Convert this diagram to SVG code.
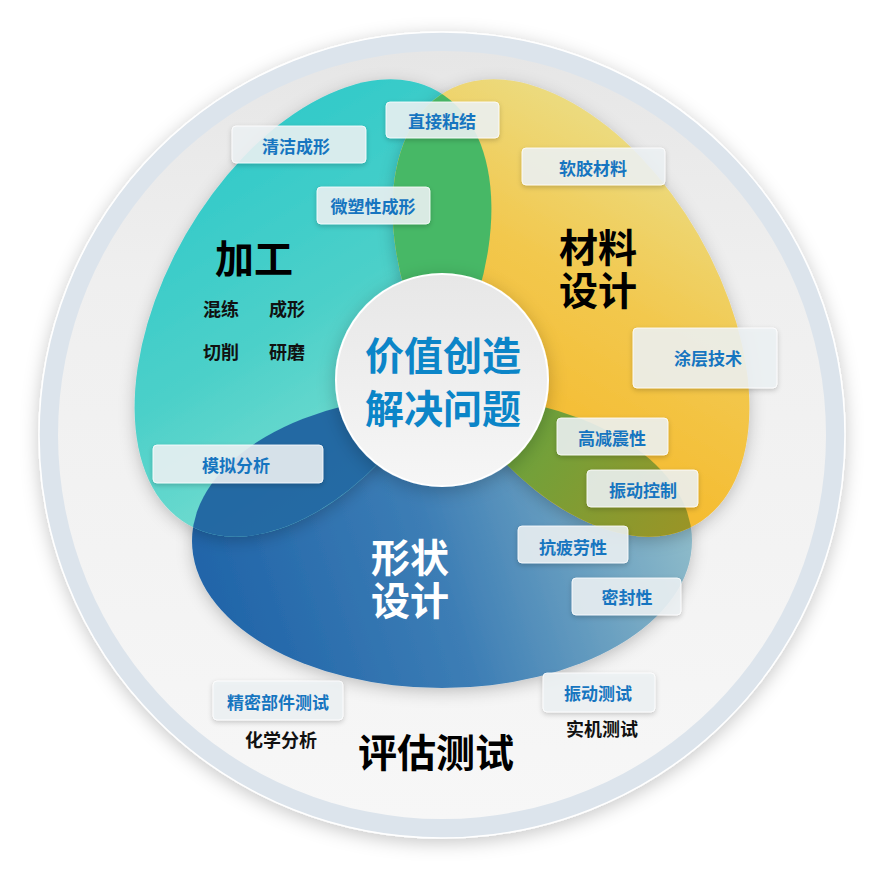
<svg xmlns="http://www.w3.org/2000/svg" width="886" height="873" viewBox="0 0 886 873">
<defs>
  <style>
    .lbl rect { fill: #eef2f5; fill-opacity: 0.87; stroke: #ffffff; stroke-opacity: 0.8; stroke-width: 1; filter: url(#boxShadow); }
    .lbl text { font-family: "Noto Sans CJK SC", "Noto Sans", sans-serif; font-weight: 700; font-size: 17px; fill: #1675c0; text-anchor: middle; dominant-baseline: central; }
    .big { font-family: "Noto Sans CJK SC", "Noto Sans", sans-serif; font-weight: 700; font-size: 39px; text-anchor: middle; dominant-baseline: central; }
    .sub { font-family: "Noto Sans CJK SC", "Noto Sans", sans-serif; font-weight: 700; font-size: 18px; fill: #111111; text-anchor: middle; dominant-baseline: central; }
  </style>
  <filter id="outerShadow" x="-10%" y="-10%" width="120%" height="120%">
    <feDropShadow dx="0" dy="4" stdDeviation="9" flood-color="#000000" flood-opacity="0.22"/>
  </filter>
  <filter id="petalShadow" x="-15%" y="-15%" width="130%" height="130%">
    <feDropShadow dx="0" dy="4" stdDeviation="8" flood-color="#000000" flood-opacity="0.22"/>
  </filter>
  <filter id="boxShadow" x="-20%" y="-30%" width="140%" height="170%">
    <feDropShadow dx="0" dy="2" stdDeviation="2.5" flood-color="#000000" flood-opacity="0.22"/>
  </filter>
  <linearGradient id="discGrad" x1="0" y1="0" x2="0" y2="1">
    <stop offset="0" stop-color="#e6e6e6"/>
    <stop offset="0.3" stop-color="#efefef"/>
    <stop offset="1" stop-color="#f7f7f7"/>
  </linearGradient>
  <linearGradient id="tealGrad" gradientUnits="userSpaceOnUse" x1="420" y1="90" x2="190" y2="520">
    <stop offset="0" stop-color="#2ac8c9"/>
    <stop offset="0.5" stop-color="#4cd0c9"/>
    <stop offset="1" stop-color="#8ae3d3"/>
  </linearGradient>
  <linearGradient id="yellowGrad" gradientUnits="userSpaceOnUse" x1="460" y1="90" x2="700" y2="500">
    <stop offset="0" stop-color="#e9e394"/>
    <stop offset="0.45" stop-color="#f2c84e"/>
    <stop offset="1" stop-color="#f7b41d"/>
  </linearGradient>
  <linearGradient id="blueGrad" gradientUnits="userSpaceOnUse" x1="220" y1="620" x2="690" y2="470">
    <stop offset="0" stop-color="#2165a9"/>
    <stop offset="0.45" stop-color="#3c7db5"/>
    <stop offset="1" stop-color="#93bfcb"/>
  </linearGradient>
  <linearGradient id="greenGrad" gradientUnits="userSpaceOnUse" x1="440" y1="100" x2="440" y2="300">
    <stop offset="0" stop-color="#36c28e"/>
    <stop offset="1" stop-color="#47b866"/>
  </linearGradient>
  <linearGradient id="oliveGrad" gradientUnits="userSpaceOnUse" x1="540" y1="420" x2="690" y2="530">
    <stop offset="0" stop-color="#6ea23c"/>
    <stop offset="1" stop-color="#9a9426"/>
  </linearGradient>
  <linearGradient id="centerGrad" x1="0" y1="0" x2="0" y2="1">
    <stop offset="0" stop-color="#e7e7e7"/>
    <stop offset="1" stop-color="#f6f6f6"/>
  </linearGradient>
  <clipPath id="clipTeal">
    <ellipse cx="313" cy="308" rx="250" ry="147" transform="rotate(-60 313 308)"/>
  </clipPath>
  <clipPath id="clipYellow">
    <ellipse cx="571" cy="308" rx="250" ry="147" transform="rotate(60 571 308)"/>
  </clipPath>
</defs>

<g id="background">
  <circle cx="442" cy="435" r="403" fill="#dce4ec" stroke="#ffffff" stroke-width="1.5" filter="url(#outerShadow)"/>
  <circle cx="442" cy="435" r="384" fill="url(#discGrad)"/>
</g>

<g id="petals">
  <g filter="url(#petalShadow)">
    <ellipse id="petal-blue" cx="442" cy="541" rx="250" ry="147" fill="url(#blueGrad)"/>
  </g>
  <g filter="url(#petalShadow)">
    <ellipse id="petal-teal" cx="313" cy="308" rx="250" ry="147" transform="rotate(-60 313 308)" fill="url(#tealGrad)"/>
  </g>
  <g clip-path="url(#clipTeal)">
    <ellipse id="overlap-teal-blue" cx="442" cy="541" rx="250" ry="147" fill="#1d5f9f" fill-opacity="0.92"/>
  </g>
  <g filter="url(#petalShadow)">
    <ellipse id="petal-yellow" cx="571" cy="308" rx="250" ry="147" transform="rotate(60 571 308)" fill="url(#yellowGrad)"/>
  </g>
  <g clip-path="url(#clipTeal)">
    <ellipse id="overlap-teal-yellow" cx="571" cy="308" rx="250" ry="147" transform="rotate(60 571 308)" fill="url(#greenGrad)"/>
  </g>
  <g clip-path="url(#clipYellow)">
    <ellipse id="overlap-yellow-blue" cx="442" cy="541" rx="250" ry="147" fill="url(#oliveGrad)"/>
  </g>
</g>

<g id="node-center">
  <circle cx="442" cy="380" r="106" fill="url(#centerGrad)" stroke="#ffffff" stroke-width="2" filter="url(#outerShadow)"/>
  <text class="big" fill="#0b85c8" font-size="40"><tspan x="443" y="353">价值创造</tspan><tspan x="443" y="406">解决问题</tspan></text>
</g>

<g id="node-jiagong">
  <text class="big" x="254" y="256" fill="#000000">加工</text>
  <text class="sub" x="221" y="308">混练</text>
  <text class="sub" x="287" y="308">成形</text>
  <text class="sub" x="221" y="351">切削</text>
  <text class="sub" x="287" y="351">研磨</text>
</g>

<g id="node-cailiao">
  <text class="big" fill="#000000"><tspan x="598" y="245">材料</tspan><tspan x="598" y="288">设计</tspan></text>
</g>

<g id="node-xingzhuang">
  <text class="big" fill="#ffffff"><tspan x="410" y="555">形状</tspan><tspan x="410" y="598">设计</tspan></text>
</g>

<g id="node-pinggu">
  <text class="big" x="436" y="750" fill="#000000">评估测试</text>
  <text class="sub" x="281" y="739">化学分析</text>
  <text class="sub" x="602" y="728">实机测试</text>
</g>

<g id="labels">
  <g id="lbl-qingjie" class="lbl"><rect x="232" y="126" width="134" height="37" rx="4"/><text x="296" y="145">清洁成形</text></g>
  <g id="lbl-zhijie" class="lbl"><rect x="386" y="102" width="113" height="36" rx="4"/><text x="442" y="120">直接粘结</text></g>
  <g id="lbl-weisuxing" class="lbl"><rect x="317" y="187" width="113" height="37" rx="4"/><text x="373" y="205">微塑性成形</text></g>
  <g id="lbl-ruanjiao" class="lbl"><rect x="522" y="148" width="143" height="37" rx="4"/><text x="593" y="167">软胶材料</text></g>
  <g id="lbl-tuceng" class="lbl"><rect x="633" y="328" width="144" height="60" rx="4"/><text x="708" y="357">涂层技术</text></g>
  <g id="lbl-gaojianzhen" class="lbl"><rect x="557" y="418" width="111" height="37" rx="4"/><text x="612" y="437">高减震性</text></g>
  <g id="lbl-zhendongkongzhi" class="lbl"><rect x="587" y="470" width="111" height="37" rx="4"/><text x="643" y="489">振动控制</text></g>
  <g id="lbl-moni" class="lbl"><rect x="153" y="445" width="170" height="38" rx="4"/><text x="236" y="464">模拟分析</text></g>
  <g id="lbl-kangpilao" class="lbl"><rect x="518" y="526" width="110" height="37" rx="4"/><text x="573" y="546">抗疲劳性</text></g>
  <g id="lbl-mifeng" class="lbl"><rect x="572" y="578" width="109" height="37" rx="4"/><text x="627" y="596">密封性</text></g>
  <g id="lbl-jingmi" class="lbl"><rect x="213" y="681" width="130" height="39" rx="4"/><text x="278" y="701">精密部件测试</text></g>
  <g id="lbl-zhendongceshi" class="lbl"><rect x="543" y="673" width="112" height="39" rx="4"/><text x="598" y="692">振动测试</text></g>
</g>
</svg>
